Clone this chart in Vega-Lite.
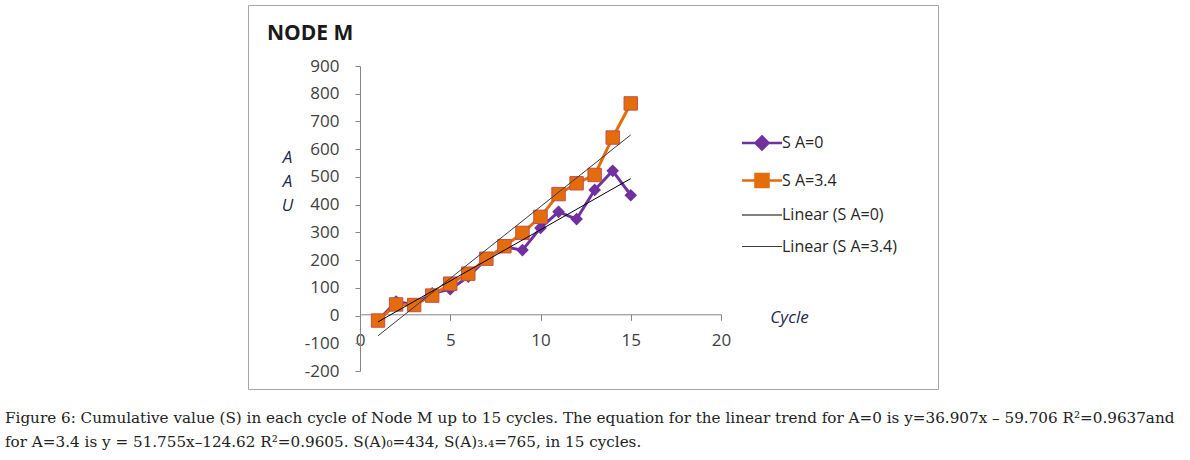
{
  "$schema": "https://vega.github.io/schema/vega-lite/v6.json",
  "padding": {"left": 5, "top": 4, "right": 0, "bottom": 0},
  "background": "white",
  "title": {
    "text": [
      "Figure 6: Cumulative value (S) in each cycle of Node M up to 15 cycles. The equation for the linear trend for A=0 is y=36.907x – 59.706 R²=0.9637and",
      "for A=3.4 is y = 51.755x–124.62 R²=0.9605. S(A)₀=434, S(A)₃.₄=765,  in 15 cycles."
    ],
    "orient": "bottom",
    "anchor": "start",
    "frame": "group",
    "offset": 33,
    "dx": -243,
    "baseline": "alphabetic",
    "lineHeight": 24,
    "font": "DejaVu Serif",
    "fontSize": 15.2,
    "fontWeight": "normal",
    "color": "#222222"
  },
  "datasets": {
    "s": [
      {"cycle": 1, "value": -18, "series": "S A=0"},
      {"cycle": 2, "value": 50, "series": "S A=0"},
      {"cycle": 3, "value": 40, "series": "S A=0"},
      {"cycle": 4, "value": 80, "series": "S A=0"},
      {"cycle": 5, "value": 95, "series": "S A=0"},
      {"cycle": 6, "value": 140, "series": "S A=0"},
      {"cycle": 7, "value": 205, "series": "S A=0"},
      {"cycle": 8, "value": 248, "series": "S A=0"},
      {"cycle": 9, "value": 236, "series": "S A=0"},
      {"cycle": 10, "value": 316, "series": "S A=0"},
      {"cycle": 11, "value": 374, "series": "S A=0"},
      {"cycle": 12, "value": 348, "series": "S A=0"},
      {"cycle": 13, "value": 453, "series": "S A=0"},
      {"cycle": 14, "value": 522, "series": "S A=0"},
      {"cycle": 15, "value": 434, "series": "S A=0"},
      {"cycle": 1, "value": -18, "series": "S A=3.4"},
      {"cycle": 2, "value": 40, "series": "S A=3.4"},
      {"cycle": 3, "value": 38, "series": "S A=3.4"},
      {"cycle": 4, "value": 72, "series": "S A=3.4"},
      {"cycle": 5, "value": 115, "series": "S A=3.4"},
      {"cycle": 6, "value": 151, "series": "S A=3.4"},
      {"cycle": 7, "value": 205, "series": "S A=3.4"},
      {"cycle": 8, "value": 250, "series": "S A=3.4"},
      {"cycle": 9, "value": 298, "series": "S A=3.4"},
      {"cycle": 10, "value": 356, "series": "S A=3.4"},
      {"cycle": 11, "value": 438, "series": "S A=3.4"},
      {"cycle": 12, "value": 477, "series": "S A=3.4"},
      {"cycle": 13, "value": 507, "series": "S A=3.4"},
      {"cycle": 14, "value": 642, "series": "S A=3.4"},
      {"cycle": 15, "value": 765, "series": "S A=3.4"},
      {"cycle": 1, "value": -22.8, "series": "Linear (S A=0)"},
      {"cycle": 15, "value": 493.9, "series": "Linear (S A=0)"},
      {"cycle": 1, "value": -72.9, "series": "Linear (S A=3.4)"},
      {"cycle": 15, "value": 651.7, "series": "Linear (S A=3.4)"}
    ]
  },
  "vconcat": [
    {
      "width": 690,
      "height": 384,
      "title": {
        "text": "NODE M",
        "anchor": "start",
        "frame": "group",
        "offset": -56,
        "dx": 19,
        "baseline": "alphabetic",
        "font": "Open Sans",
        "fontSize": 21,
        "fontWeight": "bold",
        "color": "#1a1a1a"
      },
      "data": {"name": "s"},
      "encoding": {
        "x": {
          "field": "cycle",
          "type": "quantitative",
          "scale": {"domain": [0, 20], "range": [112, 473], "nice": false, "zero": false},
          "axis": {
            "orient": "bottom",
            "offset": -74.7,
            "values": [0, 5, 10, 15, 20],
            "tickSize": 6,
            "labelPadding": 12,
            "labelFlush": false,
            "title": "Cycle",
            "titleX": 541,
            "titleY": 3,
            "titleAlign": "center",
            "titleBaseline": "middle",
            "titleFontStyle": "italic",
            "titleFontWeight": "normal",
            "titleFontSize": 17,
            "titleColor": "#1f2a4d"
          }
        },
        "y": {
          "field": "value",
          "type": "quantitative",
          "scale": {"domain": [-200, 900], "range": [366, 61], "nice": false, "zero": false},
          "axis": {
            "orient": "left",
            "offset": -112,
            "values": [-200, -100, 0, 100, 200, 300, 400, 500, 600, 700, 800, 900],
            "labelExpr": "datum.value < 0 ? '-' + abs(datum.value) : '' + datum.value",
            "tickSize": 5,
            "labelPadding": 16,
            "title": ["A", "A", "U"],
            "titleAngle": 0,
            "titleX": -73,
            "titleY": 152,
            "titleAlign": "center",
            "titleBaseline": "middle",
            "titleLineHeight": 24,
            "titleFontStyle": "italic",
            "titleFontWeight": "normal",
            "titleFontSize": 17,
            "titleColor": "#1f2a4d"
          }
        },
        "color": {
          "field": "series",
          "type": "nominal",
          "scale": {
            "domain": ["S A=0", "S A=3.4", "Linear (S A=0)", "Linear (S A=3.4)"],
            "range": ["#7030A0", "#E46C0A", "#000000", "#3a3a3a"]
          },
          "legend": {
            "orient": "none",
            "legendX": 506,
            "legendY": 130,
            "title": null,
            "padding": 0,
            "symbolSize": 400,
            "labelOffset": 12,
            "rowPadding": 13.5,
            "labelFont": "Open Sans",
            "labelFontSize": 16,
            "labelColor": "#262626",
            "encode": {
              "symbols": {
                "update": {
                  "shape": {"signal": "datum.value === 'S A=0' ? 'M-2,0H2M0,-0.65L0.65,0L0,0.65L-0.65,0Z' : datum.value === 'S A=3.4' ? 'M-2,0H2M-0.65,-0.65H0.65V0.65H-0.65Z' : 'M-2,0H2M0,-0.7L0,-0.7M0,0.7L0,0.7'"},
                  "fill": {"signal": "datum.value === 'S A=0' ? '#7030A0' : datum.value === 'S A=3.4' ? '#E46C0A' : 'transparent'"},
                  "stroke": {"signal": "datum.value === 'S A=0' ? '#7030A0' : datum.value === 'S A=3.4' ? '#E46C0A' : datum.value === 'Linear (S A=0)' ? '#000000' : '#3a3a3a'"},
                  "strokeWidth": {"signal": "datum.value === 'S A=0' || datum.value === 'S A=3.4' ? 2.5 : 1"},
                  "opacity": {"value": 1}
                }
              }
            }
          }
        }
      },
      "layer": [
        {
          "transform": [{"filter": {"field": "series", "equal": "S A=0"}}],
          "mark": {"type": "line", "strokeWidth": 3, "strokeJoin": "round"}
        },
        {
          "transform": [{"filter": {"field": "series", "equal": "S A=0"}}],
          "mark": {"type": "point", "shape": "diamond", "filled": true, "size": 160, "opacity": 1}
        },
        {
          "transform": [{"filter": {"field": "series", "equal": "S A=3.4"}}],
          "mark": {"type": "line", "strokeWidth": 3, "strokeJoin": "round"}
        },
        {
          "transform": [{"filter": {"field": "series", "equal": "S A=3.4"}}],
          "mark": {"type": "point", "shape": "square", "filled": true, "size": 180, "opacity": 1, "stroke": "#C0504D", "strokeWidth": 1}
        },
        {
          "transform": [{"filter": {"field": "series", "oneOf": ["Linear (S A=0)", "Linear (S A=3.4)"]}}],
          "mark": {"type": "line", "strokeWidth": 1}
        }
      ]
    }
  ],
  "config": {
    "font": "Open Sans",
    "view": {"stroke": "#a6a6a6", "strokeWidth": 1},
    "axis": {
      "grid": false,
      "domainColor": "#868686",
      "tickColor": "#868686",
      "labelFont": "Open Sans",
      "labelFontSize": 17,
      "labelColor": "#404040",
      "titleFont": "Open Sans"
    }
  }
}
